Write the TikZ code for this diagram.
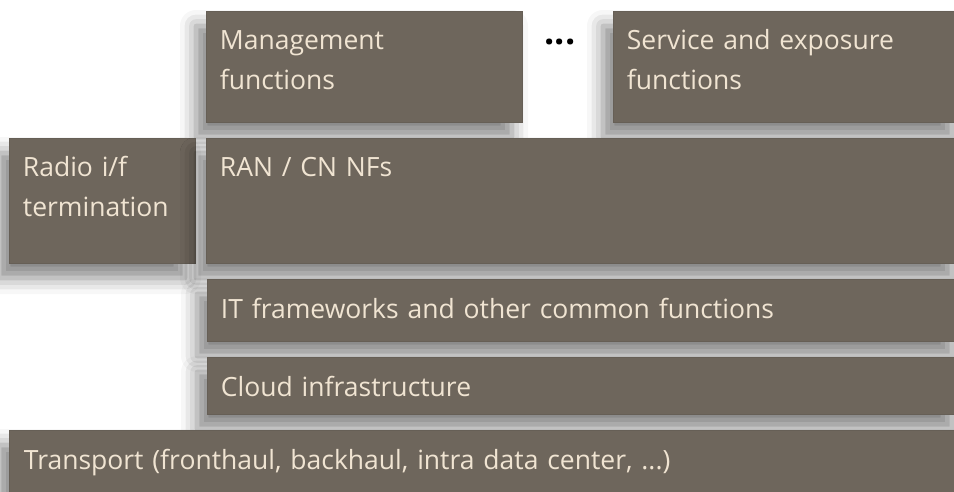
\documentclass[tikz,border=0pt]{standalone}
\usepackage{fontspec}
\setmainfont{Open Sans}
\usetikzlibrary{fit,shadows.blur}
\definecolor{boxfill}{HTML}{6E665C}
\definecolor{boxedge}{HTML}{665F56}
\definecolor{boxtext}{HTML}{F0E4D2}
\tikzset{
  box/.style={fill=boxfill, draw=boxedge, line width=0.6pt, inner sep=0pt,
    blur shadow={shadow xshift=-10pt, shadow yshift=-15pt, shadow blur radius=16pt, shadow opacity=48}},
  lbl/.style={text=boxtext, font=\fontsize{26.5}{40}\selectfont, inner sep=0pt,
    anchor=base west, align=left, text width=330pt},
}
\begin{document}
\begin{tikzpicture}[x=1pt,y=-1pt]
\useasboundingbox (0,0) rectangle (954,491);
\clip (0,0) rectangle (954,491);
\node[box, fit={(206,11) (522,122)}] (mgmt) {};
\node[box, fit={(613,11) (962,122)}] (svc) {};
\node[box, fit={(9,138) (195,263)}] (radio) {};
\node[box, fit={(206,138) (962,263)}] (ran) {};
\node[box, fit={(207,279) (962,341)}] (it) {};
\node[box, fit={(207,357) (962,414)}] (cloud) {};
\node[box, fit={(9,430) (962,500)}] (transport) {};
\node[lbl] (tmgmt) at ([shift={(14,39)}]mgmt.north west) {Management\\functions};
\node[lbl] (tsvc) at ([shift={(14,39)}]svc.north west) {Service and exposure\\functions};
\node[lbl] (tradio) at ([shift={(14,39)}]radio.north west) {Radio i/f\\termination};
\node[lbl] (tran) at ([shift={(14,39)}]ran.north west) {RAN / CN NFs};
\node[lbl, text width=700pt] (tit) at ([shift={(14,40)}]it.north west) {IT frameworks and other common functions};
\node[lbl] (tcloud) at ([shift={(14,40)}]cloud.north west) {Cloud infrastructure};
\node[lbl, text width=900pt] (ttransport) at ([shift={(15,40)}]transport.north west) {Transport (fronthaul, backhaul, intra data center, ...)};
\node[font=\fontsize{36}{36}\selectfont\bfseries, text=black, inner sep=0pt, anchor=base] (dots) at (560,44) {...};
\end{tikzpicture}
\end{document}
